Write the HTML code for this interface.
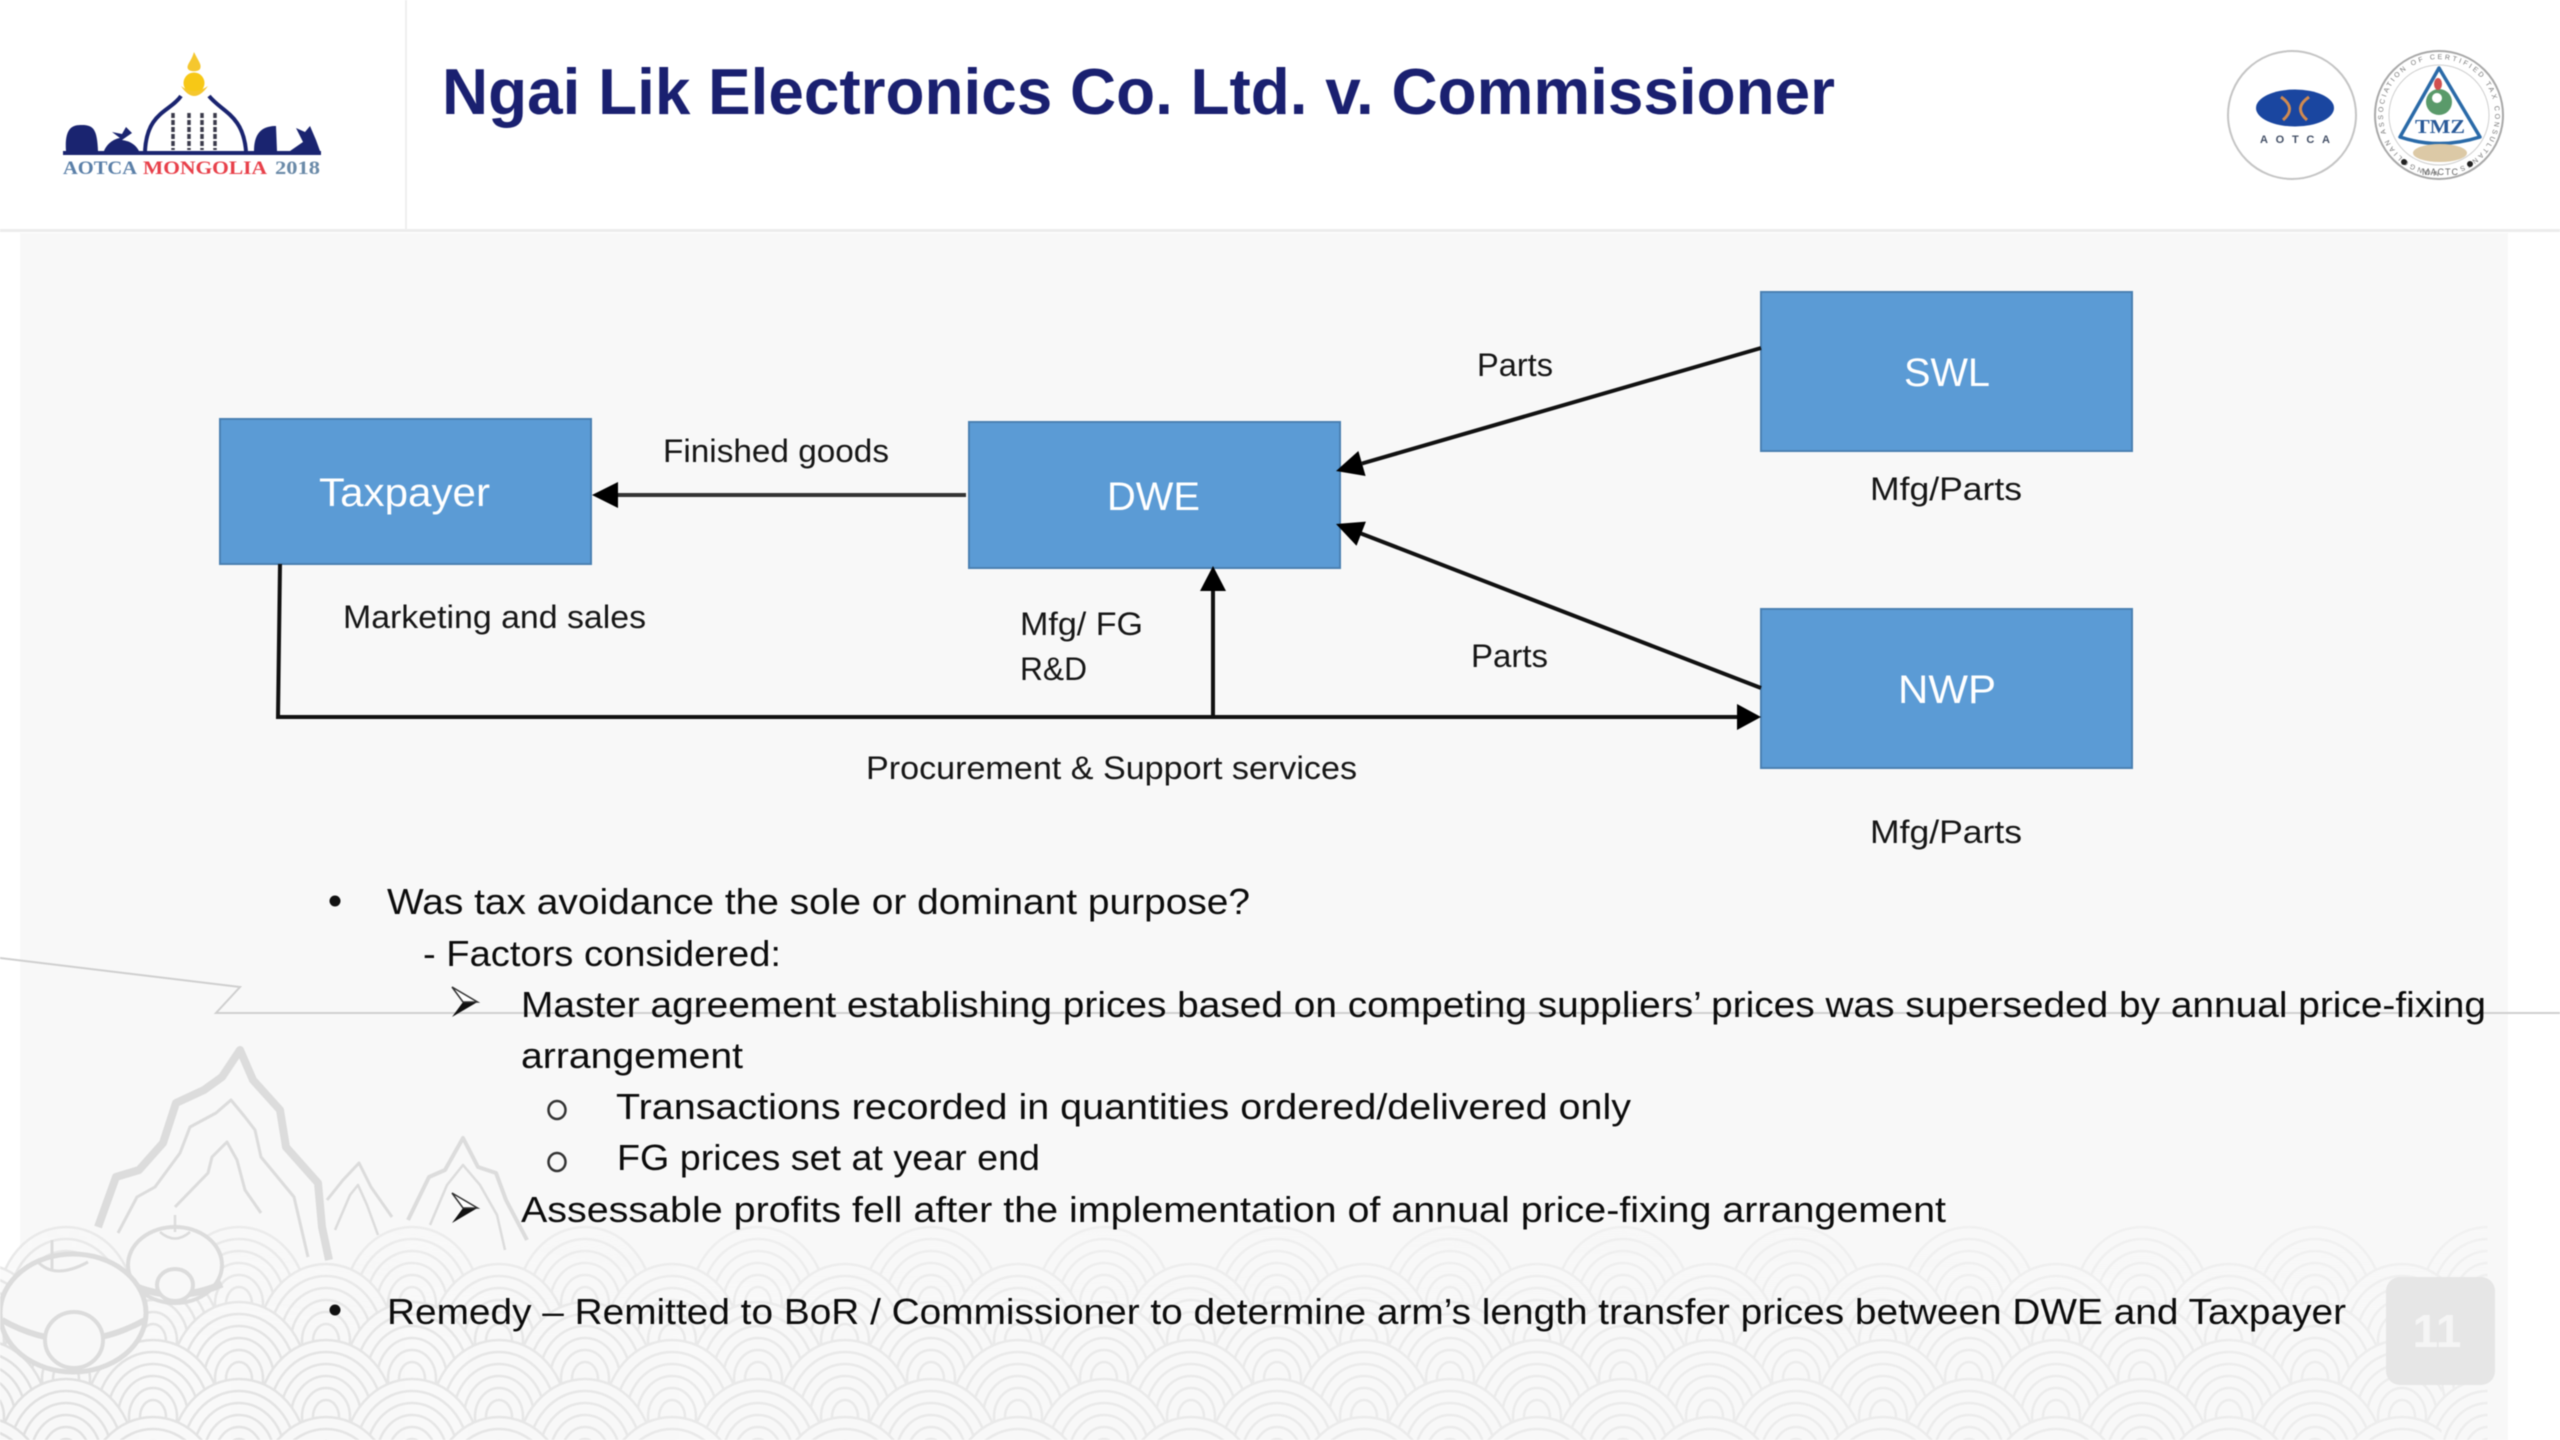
<!DOCTYPE html>
<html lang="en">
<head>
<meta charset="utf-8">
<title>Ngai Lik Electronics Co. Ltd. v. Commissioner</title>
<style>
html,body{margin:0;padding:0;background:#fff;width:2560px;height:1440px;overflow:hidden}
svg{display:block;filter:blur(.6px)}
text{font-family:"Liberation Sans",sans-serif}
.b{font-size:36px;fill:#0c0c0c}
.l{font-size:32px;fill:#161616}
.w{font-size:40px;fill:#fff}
</style>
</head>
<body>
<svg xmlns="http://www.w3.org/2000/svg" width="2560" height="1440" viewBox="0 0 2560 1440">
<defs>
<pattern id="s" patternUnits="userSpaceOnUse" width="173" height="160">
<g fill="#f8f8f8" stroke="#e0e0e0" stroke-width="2.5">
<ellipse cx="86.5" cy="79" rx="68" ry="77"/>
<ellipse cx="86.5" cy="79" rx="57" ry="65"/>
<ellipse cx="86.5" cy="79" rx="46" ry="53"/>
<ellipse cx="86.5" cy="79" rx="35" ry="41"/>
<ellipse cx="86.5" cy="79" rx="24" ry="29"/>
<ellipse cx="86.5" cy="79" rx="13" ry="17"/>
</g>
</pattern>
<linearGradient id="hg" gradientUnits="userSpaceOnUse" x1="0" y1="0" x2="2510" y2="0">
<stop offset="0" stop-color="#fff"/>
<stop offset=".28" stop-color="#a0a0a0"/>
<stop offset="1" stop-color="#707070"/>
</linearGradient>
<linearGradient id="vg" gradientUnits="userSpaceOnUse" x1="0" y1="1215" x2="0" y2="1340">
<stop offset="0" stop-color="#909090"/>
<stop offset="1" stop-color="#fff"/>
</linearGradient>
<mask id="mh" maskUnits="userSpaceOnUse" x="0" y="1100" width="2560" height="340"><rect x="0" y="1100" width="2560" height="340" fill="url(#hg)"/></mask>
<mask id="mv" maskUnits="userSpaceOnUse" x="0" y="1100" width="2560" height="340"><rect x="0" y="1100" width="2560" height="340" fill="url(#vg)"/></mask>
<clipPath id="c"><rect x="0" y="233" width="2508" height="1207"/></clipPath>
<path id="circ" d="M2439,171 a56,56 0 1 1 0.1,0"/>
</defs>

<!-- page regions -->
<rect width="2560" height="1440" fill="#fff"/>
<rect x="20" y="233" width="2488" height="1207" fill="#f8f8f8"/>
<rect x="0" y="229" width="2560" height="3" fill="#ececec"/>
<rect x="405" y="0" width="2" height="230" fill="#efefef"/>

<!-- thin decorative line -->
<path d="M0,958 L240,987 L216,1013 L2560,1013" fill="none" stroke="#cfcfcf" stroke-width="2"/>

<!-- mountains -->
<g fill="none" stroke="#dcdcdc" stroke-linejoin="round">
<path stroke-width="8" d="M98,1227 L116,1177 L139,1170 L163,1143 L176,1103 L204,1090 L222,1077 L240,1050 L253,1080 L280,1110 L286,1147 L318,1183 L322,1227 L329,1260"/>
<path stroke-width="3" d="M118,1233 L137,1197 L155,1187 L180,1153 L190,1127 L216,1113 L231,1100 L245,1117 L255,1130 L261,1157 L294,1197 L308,1257"/>
<path stroke-width="3" d="M175,1207 L208,1173 L212,1157 L227,1142 L237,1160 L245,1190 L261,1213"/>
<path stroke-width="3" d="M327,1200 L343,1180 L359,1163 L371,1187 L392,1217"/>
<path stroke-width="2.5" d="M335,1230 L350,1195 L358,1185 L367,1205 L378,1235"/>
<path stroke-width="4" d="M408,1220 L429,1177 L445,1170 L463,1138 L478,1167 L496,1173 L506,1200 L527,1240"/>
<path stroke-width="2.5" d="M430,1225 L447,1185 L463,1165 L480,1185 L497,1215 L505,1250"/>
</g>

<!-- scallop waves -->
<g clip-path="url(#c)"><g mask="url(#mv)"><g mask="url(#mh)">
<rect transform="translate(-20.5,1225)" x="20.5" y="0" width="2487.5" height="158" fill="url(#s)"/>
<rect transform="translate(66.5,1262)" x="-66.5" y="0" width="2441.5" height="158" fill="url(#s)"/>
<rect transform="translate(-20.5,1300)" x="20.5" y="0" width="2487.5" height="140" fill="url(#s)"/>
<rect transform="translate(66.5,1338)" x="-66.5" y="0" width="2441.5" height="102" fill="url(#s)"/>
<rect transform="translate(-20.5,1377)" x="20.5" y="0" width="2487.5" height="63" fill="url(#s)"/>
<rect transform="translate(66.5,1415)" x="-66.5" y="0" width="2441.5" height="25" fill="url(#s)"/>
</g></g></g>

<!-- gers -->
<g fill="#f8f8f8" stroke="#dcdcdc" stroke-width="4">
<ellipse cx="175" cy="1265" rx="47" ry="38"/>
<path d="M130,1284 Q175,1305 222,1284" fill="none" stroke-width="7"/>
<ellipse cx="175" cy="1285" rx="18" ry="16"/>
<path d="M175,1215 V1232 M160,1232 Q175,1245 190,1232" fill="none" stroke-width="2.5"/>
<ellipse cx="73" cy="1313" rx="73" ry="59" stroke-width="5"/>
<path d="M2,1320 Q73,1360 145,1320" fill="none" stroke-width="6"/>
<ellipse cx="74" cy="1340" rx="29" ry="28"/>
<path d="M52,1240 V1270 M38,1262 Q55,1280 88,1262" fill="none" stroke-width="3"/>
</g>

<!-- left logo -->
<g>
<path d="M194,52 C199,62 202,65 200,69 C198,72 190,72 188,69 C186,65 191,62 194,52Z" fill="#f5c72e"/>
<circle cx="194" cy="83" r="10.5" fill="#f7c816"/>
<path d="M181,86 Q194,106 208,86 Q194,96 181,86Z" fill="#f5c72e"/>
<path d="M181,96 C170,112 147,112 145,151 M209,96 C222,112 243,115 246,151" fill="none" stroke="#1a2470" stroke-width="4"/>
<rect x="63" y="151" width="258" height="4" fill="#1a2470"/>
<path d="M66,151 C64,125 75,125 82,125 C94,125 97,130 98,151Z" fill="#1a2470"/>
<path d="M104,151 C108,141 118,138 120,138 L112,132 L122,134 L126,127 L132,133 L122,140 C130,141 136,145 139,151Z" fill="#1a2470"/>
<path d="M254,151 C254,130 265,126 276,126 L277,151Z" fill="#1a2470"/>
<path d="M290,151 L303,142 L296,128 L305,132 L310,126 L316,140 L320,151Z" fill="#1a2470"/>
<g stroke="#3a3a4a" stroke-width="3.5" fill="none" stroke-dasharray="5 2">
<path d="M173,113 V150"/><path d="M189,113 V150"/><path d="M202,113 V150"/><path d="M215,113 V150"/>
</g>
<text x="63" y="174" font-size="19" font-weight="bold" fill="#5a7fa8" style="font-family:'Liberation Serif',serif" textLength="74" lengthAdjust="spacingAndGlyphs">AOTCA</text>
<text x="143" y="174" font-size="19" font-weight="bold" fill="#e8404a" style="font-family:'Liberation Serif',serif" textLength="124" lengthAdjust="spacingAndGlyphs">MONGOLIA</text>
<text x="275" y="174" font-size="19" font-weight="bold" fill="#6a8aa8" style="font-family:'Liberation Serif',serif" textLength="45" lengthAdjust="spacingAndGlyphs">2018</text>
</g>

<!-- title -->
<text x="442" y="114" font-size="65" font-weight="bold" fill="#1a2070" textLength="1393" lengthAdjust="spacingAndGlyphs">Ngai Lik Electronics Co. Ltd. v. Commissioner</text>

<!-- AOTCA seal -->
<circle cx="2292" cy="115" r="64" fill="#fff" stroke="#c4c4c4" stroke-width="2"/>
<ellipse cx="2295" cy="108" rx="39" ry="18.5" fill="#1a46a0"/>
<path d="M2281,97 Q2297,108 2283,120 M2309,97 Q2293,108 2307,120" fill="none" stroke="#d08a50" stroke-width="3"/>
<text x="2260" y="143" font-size="11" font-weight="bold" fill="#445066" textLength="70">AOTCA</text>

<!-- TMZ seal -->
<circle cx="2439" cy="115" r="64" fill="#fff" stroke="#a8a8a8" stroke-width="2"/>
<circle cx="2439" cy="115" r="50" fill="none" stroke="#cfcfcf" stroke-width="1"/>
<text font-size="7" fill="#777"><textPath href="#circ" textLength="330">MONGOLIAN ASSOCIATION OF CERTIFIED TAX CONSULTANTS</textPath></text>
<path d="M2439,68 L2400,137 Q2439,150 2480,137 Z" fill="#fff" stroke="#2a6aa8" stroke-width="3.5" stroke-linejoin="round"/>
<circle cx="2439" cy="102" r="13" fill="#5a9a6a"/>
<circle cx="2437" cy="98" r="5" fill="#fff"/>
<ellipse cx="2438" cy="84" rx="4" ry="6" fill="#d05050"/>
<text x="2415" y="133" font-size="20" font-weight="bold" fill="#2a5a98" style="font-family:'Liberation Serif',serif" textLength="50" lengthAdjust="spacingAndGlyphs">TMZ</text>
<ellipse cx="2440" cy="153" rx="27" ry="9" fill="#dcc9a6"/>
<circle cx="2404" cy="162" r="3" fill="#222"/>
<circle cx="2470" cy="164" r="3" fill="#222"/>
<text x="2422" y="175" font-size="9" fill="#666" textLength="36">MACTC</text>

<!-- boxes -->
<g fill="#5b9bd5" stroke="#4a80b2" stroke-width="2">
<rect x="220" y="419" width="371" height="145"/>
<rect x="969" y="422" width="371" height="146"/>
<rect x="1761" y="292" width="371" height="159"/>
<rect x="1761" y="609" width="371" height="159"/>
</g>
<text class="w" x="319" y="506" textLength="171" lengthAdjust="spacingAndGlyphs">Taxpayer</text>
<text class="w" x="1107" y="510" textLength="93" lengthAdjust="spacingAndGlyphs">DWE</text>
<text class="w" x="1904" y="386" textLength="86" lengthAdjust="spacingAndGlyphs">SWL</text>
<text class="w" x="1898" y="703" textLength="98" lengthAdjust="spacingAndGlyphs">NWP</text>

<!-- connectors -->
<g stroke="#111" stroke-width="4" fill="none">
<path d="M966,495 H615" stroke="#333"/>
<path d="M280,564 L278,717 H1740"/>
<path d="M1213,717 V588"/>
<path d="M1761,348 L1362,463.5"/>
<path d="M1761,688 L1361,533.5"/>
</g>
<g fill="#000">
<polygon points="592,495 618,482 618,508"/>
<polygon points="1761,717 1737,704 1737,730"/>
<polygon points="1213,566 1200,591 1226,591"/>
<polygon points="1336,471 1365.6,476 1358.4,451"/>
<polygon points="1336,524 1365.9,521.6 1356.5,545.8"/>
</g>

<!-- diagram labels -->
<text class="l" x="663" y="462" textLength="226" lengthAdjust="spacingAndGlyphs">Finished goods</text>
<text class="l" x="343" y="628" textLength="303" lengthAdjust="spacingAndGlyphs">Marketing and sales</text>
<text class="l" x="1477" y="376" textLength="76" lengthAdjust="spacingAndGlyphs">Parts</text>
<text class="l" x="1471" y="667" textLength="77" lengthAdjust="spacingAndGlyphs">Parts</text>
<text class="l" x="1020" y="635" textLength="123" lengthAdjust="spacingAndGlyphs">Mfg/ FG</text>
<text class="l" x="1020" y="680" textLength="67" lengthAdjust="spacingAndGlyphs">R&amp;D</text>
<text class="l" x="866" y="779" textLength="491" lengthAdjust="spacingAndGlyphs">Procurement &amp; Support services</text>
<text class="l" x="1870" y="500" textLength="152" lengthAdjust="spacingAndGlyphs">Mfg/Parts</text>
<text class="l" x="1870" y="843" textLength="152" lengthAdjust="spacingAndGlyphs">Mfg/Parts</text>

<!-- body text -->
<circle cx="335" cy="901" r="5.5" fill="#111"/>
<text class="b" x="387" y="914" textLength="863" lengthAdjust="spacingAndGlyphs">Was tax avoidance the sole or dominant purpose?</text>
<text class="b" x="423" y="966" textLength="358" lengthAdjust="spacingAndGlyphs">- Factors considered:</text>
<g>
<polygon points="463,1002 477.5,1002 452,1017" fill="#111"/>
<path d="M452,987 L477.5,1002 L463,1002 Z" fill="#fff" stroke="#333" stroke-width="1.5"/>
</g>
<text class="b" x="521" y="1017" textLength="1965" lengthAdjust="spacingAndGlyphs">Master agreement establishing prices based on competing suppliers’ prices was superseded by annual price-fixing</text>
<text class="b" x="521" y="1068" textLength="222" lengthAdjust="spacingAndGlyphs">arrangement</text>
<ellipse cx="557" cy="1110" rx="8.5" ry="9" fill="none" stroke="#333" stroke-width="2.5"/>
<text class="b" x="616" y="1119" textLength="1015" lengthAdjust="spacingAndGlyphs">Transactions recorded in quantities ordered/delivered only</text>
<ellipse cx="557" cy="1162" rx="8.5" ry="9" fill="none" stroke="#333" stroke-width="2.5"/>
<text class="b" x="617" y="1170" textLength="423" lengthAdjust="spacingAndGlyphs">FG prices set at year end</text>
<g>
<polygon points="463,1208 477.5,1208 452,1223" fill="#111"/>
<path d="M452,1193 L477.5,1208 L463,1208 Z" fill="#fff" stroke="#333" stroke-width="1.5"/>
</g>
<text class="b" x="521" y="1222" textLength="1425" lengthAdjust="spacingAndGlyphs">Assessable profits fell after the implementation of annual price-fixing arrangement</text>
<circle cx="335" cy="1310" r="5.5" fill="#111"/>
<text class="b" x="387" y="1324" textLength="1959" lengthAdjust="spacingAndGlyphs">Remedy – Remitted to BoR / Commissioner to determine arm’s length transfer prices between DWE and Taxpayer</text>

<!-- page number -->
<rect x="2386" y="1277" width="109" height="108" rx="14" fill="#e6e6e6"/>
<text x="2437" y="1347" font-size="46" font-weight="bold" fill="#f5f5f5" text-anchor="middle">11</text>
</svg>
</body>
</html>
